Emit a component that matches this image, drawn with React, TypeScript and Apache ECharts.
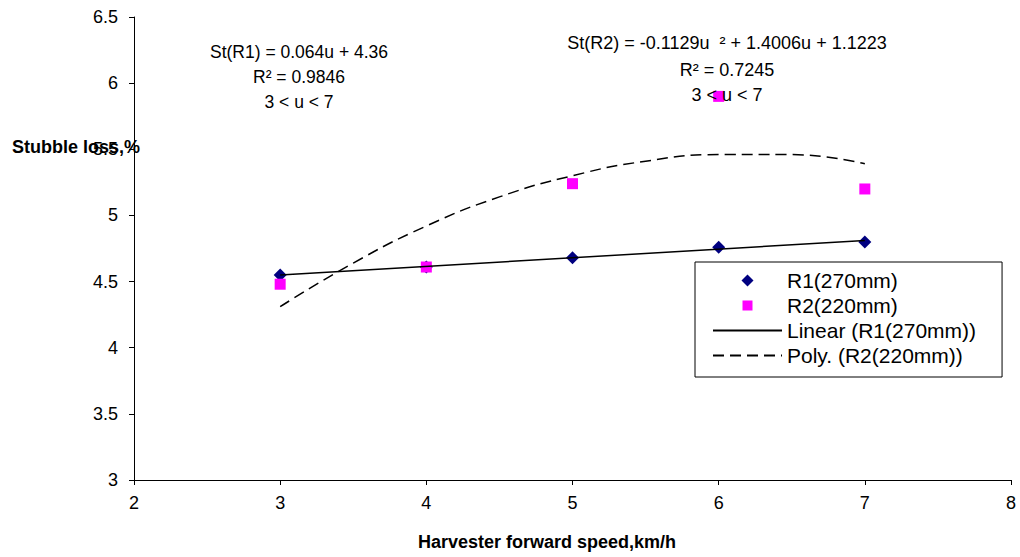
import React, { useEffect, useRef } from "react";
import * as echarts from "echarts";

const speeds = [3, 4, 5, 6, 7];
const r1Values = [4.55, 4.61, 4.68, 4.76, 4.8];
const r2Values = [4.48, 4.61, 5.24, 5.9, 5.2];
const linearX = [3, 7];
const linearY = [4.55, 4.81];
const polyX = [3, 3.5, 4, 4.5, 5, 5.5, 6, 6.5, 7];
const polyY = [4.31, 4.64, 4.92, 5.14, 5.3, 5.41, 5.46, 5.46, 5.39];
const seriesNames = ["R1(270mm)", "R2(220mm)", "Linear (R1(270mm))", "Poly. (R2(220mm))"];
const eq1 = ["St(R1) = 0.064u + 4.36", "R² = 0.9846", "3 < u < 7"];
const eq2 = ["St(R2) = -0.1129u  ² + 1.4006u + 1.1223", "R² = 0.7245", "3 < u < 7"];
const xName = "Harvester forward speed,km/h";
const yName = "Stubble loss,%";

const FONT = "'Liberation Sans', Arial, sans-serif";

export default function App() {
  const ref = useRef<HTMLDivElement>(null);
  useEffect(() => {
    if (!ref.current) return;
    const chart = echarts.init(ref.current, null, { renderer: "svg" });
    const pair = (xs: number[], ys: number[]) => xs.map((x, i) => [x, ys[i]]);
    const txt = (text: string, x: number, y: number, size: number, bold = false, align = "center") => ({
      type: "text",
      x,
      y,
      z: 100,
      style: {
        text,
        fontSize: size,
        fontFamily: FONT,
        fontWeight: bold ? "bold" : "normal",
        fill: "#000",
        align,
        textAlign: align,
        verticalAlign: "middle",
        textVerticalAlign: "middle",
      },
    });
    chart.setOption({
      animation: false,
      backgroundColor: "#fff",
      textStyle: { fontFamily: FONT },
      grid: { left: 134, right: 9, top: 17, bottom: 77, containLabel: false },
      xAxis: {
        type: "value",
        min: 2,
        max: 8,
        interval: 1,
        axisLine: { lineStyle: { color: "#000", width: 1 } },
        axisTick: { show: true, length: 5, lineStyle: { color: "#000" } },
        axisLabel: { color: "#000", fontSize: 18, margin: 14, fontFamily: FONT },
        splitLine: { show: false },
      },
      yAxis: {
        type: "value",
        min: 3,
        max: 6.5,
        interval: 0.5,
        axisLine: { show: true, lineStyle: { color: "#000", width: 1 } },
        axisTick: { show: true, length: 5, lineStyle: { color: "#000" } },
        axisLabel: { color: "#000", fontSize: 18, margin: 16, fontFamily: FONT },
        splitLine: { show: false },
      },
      legend: {
        left: 695,
        top: 262,
        orient: "vertical",
        symbolKeepAspect: true,
        data: [
          { name: seriesNames[0], icon: "path://M0,-1L1,0L0,1L-1,0Z", itemStyle: { opacity: 1 } },
          { name: seriesNames[1], icon: "path://M-0.1,-0.1M1.1,1.1M0,0H1V1H0Z", itemStyle: { opacity: 1 } },
          { name: seriesNames[2], itemStyle: { opacity: 0 } },
          { name: seriesNames[3], itemStyle: { opacity: 0 } },
        ],
        itemWidth: 69,
        itemHeight: 12,
        itemGap: 4,
        padding: [8, 26, 11, 17],
        borderColor: "#000",
        borderWidth: 1,
        backgroundColor: "#fff",
        textStyle: { fontSize: 21, color: "#000", fontFamily: FONT },
      },
      graphic: [
        txt(eq1[0], 299, 52, 17.5),
        txt(eq1[1], 299, 77, 17.5),
        txt(eq1[2], 299, 102, 17.5),
        txt(eq2[0], 727, 43, 18),
        txt(eq2[1], 727, 70, 18),
        txt(eq2[2], 727, 95, 18),
        txt(yName, 12, 147, 18, true, "left"),
        txt(xName, 547, 542, 18, true, "center"),
      ],
      series: [
        {
          name: seriesNames[0],
          type: "scatter",
          symbol: "diamond",
          symbolSize: 13,
          itemStyle: { color: "#000080", opacity: 1 },
          data: pair(speeds, r1Values),
          z: 3,
        },
        {
          name: seriesNames[1],
          type: "scatter",
          symbol: "rect",
          symbolSize: 11,
          itemStyle: { color: "#FF00FF", opacity: 1 },
          data: pair(speeds, r2Values),
          z: 4,
        },
        {
          name: seriesNames[2],
          type: "line",
          symbol: "none",
          showSymbol: false,
          lineStyle: { color: "#000", width: 1.5 },
          itemStyle: { color: "#000" },
          data: pair(linearX, linearY),
          z: 5,
        },
        {
          name: seriesNames[3],
          type: "line",
          symbol: "none",
          showSymbol: false,
          smooth: true,
          lineStyle: { color: "#000", width: 1.5, type: [11, 6] },
          itemStyle: { color: "#000" },
          data: pair(polyX, polyY),
          z: 5,
        },
      ],
    });
    return () => chart.dispose();
  }, []);
  return (
    <div
      ref={ref}
      style={{ position: "fixed", left: 0, top: 0, width: 1020, height: 557, background: "#fff" }}
    />
  );
}
